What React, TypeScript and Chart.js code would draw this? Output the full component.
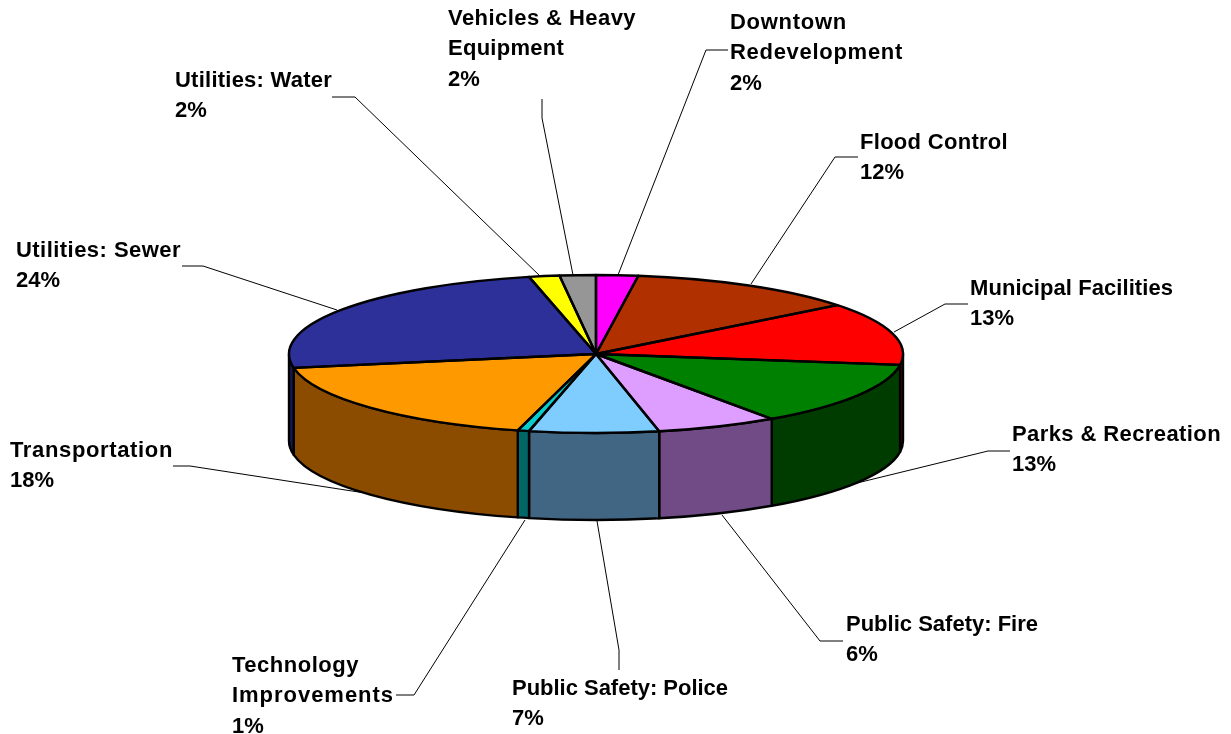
import React, { useEffect, useRef } from "react";
import { Chart, registerables } from "chart.js";

Chart.register(...registerables);

const categories = [
  "Downtown Redevelopment",
  "Flood Control",
  "Municipal Facilities",
  "Parks & Recreation",
  "Public Safety: Fire",
  "Public Safety: Police",
  "Technology Improvements",
  "Transportation",
  "Utilities: Sewer",
  "Utilities: Water",
  "Vehicles & Heavy Equipment",
];
const shares = [2.2, 12.2, 12.8, 13.1, 6.4, 6.8, 0.6, 18.1, 24.3, 1.6, 1.9];
const percentLabels = ["2%", "12%", "13%", "13%", "6%", "7%", "1%", "18%", "24%", "2%", "2%"];
const topColors = ["#FF00FF", "#B03000", "#FF0000", "#008000", "#DD9EFF", "#7FCCFF", "#0ACCCC", "#FF9900", "#2E3099", "#FFFF00", "#969696"];
const sideColors = ["#800080", "#581800", "#800000", "#003C00", "#704B86", "#406683", "#006666", "#8C4C00", "#17194D", "#808000", "#4B4B4B"];

const W = 1231;
const H = 734;
const CX = 596;
const CY = 354;
const RX = 307;
const RY = 79;
const DEPTH = 87;

// label placement: wrapped lines, their drawn widths, left edge, vertical centre of the first line
const labelLayout = [
  { lines: ["Downtown", "Redevelopment"], widths: [117, 173], x: 730, y: 22, leader: [[728, 50], [706, 50], [618, 275]] },
  { lines: ["Flood Control"], widths: [148], x: 860, y: 142, leader: [[858, 157], [835, 157], [751, 284]] },
  { lines: ["Municipal Facilities"], widths: [203], x: 970, y: 288, leader: [[968, 304], [945, 304], [894, 332]] },
  { lines: ["Parks & Recreation"], widths: [209], x: 1012, y: 434, leader: [[1010, 451], [988, 451], [857, 483]] },
  { lines: ["Public Safety: Fire"], widths: [192], x: 846, y: 624, leader: [[843, 641], [820, 641], [722, 515]] },
  { lines: ["Public Safety: Police"], widths: [216], x: 512, y: 688, leader: [[619, 670], [619, 650], [597, 521]] },
  { lines: ["Technology", "Improvements"], widths: [127, 162], x: 232, y: 665, leader: [[396, 695], [414, 695], [525, 520]] },
  { lines: ["Transportation"], widths: [163], x: 10, y: 450, leader: [[173, 466], [190, 466], [365, 493]] },
  { lines: ["Utilities: Sewer"], widths: [165], x: 16, y: 250, leader: [[182, 266], [203, 266], [337, 310]] },
  { lines: ["Utilities: Water"], widths: [157], x: 175, y: 80, leader: [[332, 97], [355, 97], [541, 277]] },
  { lines: ["Vehicles & Heavy", "Equipment"], widths: [188, 116], x: 448, y: 18, leader: [[542, 99], [542, 118], [573, 275]] },
];

const LINE_STEP = 30.3;

const pie3d = {
  id: "pie3d",
  beforeDatasetsDraw(chart: any) {
    const ctx: CanvasRenderingContext2D = chart.ctx;
    const arcs = chart.getDatasetMeta(0).data;

    ctx.save();
    ctx.strokeStyle = "#000";
    ctx.lineWidth = 1;
    labelLayout.forEach((l) => {
      ctx.beginPath();
      l.leader.forEach((p, i) => (i ? ctx.lineTo(p[0], p[1]) : ctx.moveTo(p[0], p[1])));
      ctx.stroke();
    });

    // front walls
    ctx.lineWidth = 2.4;
    ctx.lineJoin = "round";
    arcs.forEach((arc: any, i: number) => {
      const { x, y, startAngle, endAngle, outerRadius } = arc.getProps(["x", "y", "startAngle", "endAngle", "outerRadius"], true);
      const s = Math.max(startAngle, 0);
      const e = Math.min(endAngle, Math.PI);
      if (s >= e) return;
      const ry = outerRadius * (RY / RX);
      ctx.beginPath();
      ctx.ellipse(x, y, outerRadius, ry, 0, s, e);
      ctx.lineTo(x + outerRadius * Math.cos(e), y + ry * Math.sin(e) + DEPTH);
      ctx.ellipse(x, y + DEPTH, outerRadius, ry, 0, e, s, true);
      ctx.closePath();
      ctx.fillStyle = sideColors[i];
      ctx.fill();
      ctx.stroke();
    });
    ctx.restore();

    // the pie's own arcs are drawn squashed into the tilted top face
    ctx.save();
    ctx.translate(CX, CY);
    ctx.scale(1, RY / RX);
    ctx.translate(-CX, -CY);
  },
  afterDatasetsDraw(chart: any) {
    const ctx: CanvasRenderingContext2D = chart.ctx;
    ctx.restore();
    const arcs = chart.getDatasetMeta(0).data;

    ctx.save();
    ctx.strokeStyle = "#000";
    ctx.lineWidth = 2.4;
    ctx.lineJoin = "round";
    arcs.forEach((arc: any) => {
      const { x, y, startAngle, endAngle, outerRadius } = arc.getProps(["x", "y", "startAngle", "endAngle", "outerRadius"], true);
      const ry = outerRadius * (RY / RX);
      ctx.beginPath();
      ctx.moveTo(x, y);
      ctx.ellipse(x, y, outerRadius, ry, 0, startAngle, endAngle);
      ctx.closePath();
      ctx.stroke();
    });

    ctx.fillStyle = "#000";
    ctx.font = 'bold 22px "Liberation Sans", Arial, sans-serif';
    ctx.textBaseline = "alphabetic";
    labelLayout.forEach((l, i) => {
      l.lines.forEach((t, n) => {
        (ctx as any).letterSpacing = "0px";
        const spacing = (l.widths[n] - ctx.measureText(t).width) / t.length;
        (ctx as any).letterSpacing = `${spacing}px`;
        ctx.fillText(t, l.x, l.y + 7 + n * LINE_STEP);
      });
      (ctx as any).letterSpacing = "0px";
      ctx.fillText(percentLabels[i], l.x, l.y + 7 + l.lines.length * LINE_STEP);
    });
    ctx.restore();
  },
};

export default function App() {
  const ref = useRef<HTMLCanvasElement>(null);
  useEffect(() => {
    const chart = new Chart(ref.current!, {
      type: "pie",
      data: {
        labels: categories,
        datasets: [{ data: shares, backgroundColor: topColors, borderWidth: 0 }],
      },
      options: {
        animation: false,
        responsive: false,
        layout: {
          padding: { left: CX - RX, right: W - CX - RX, top: CY - RX, bottom: H - CY - RX },
        },
        plugins: { legend: { display: false }, tooltip: { enabled: false }, title: { display: false } },
      },
      plugins: [pie3d],
    } as any);
    return () => chart.destroy();
  }, []);
  return (
    <canvas
      ref={ref}
      width={W}
      height={H}
      style={{ position: "absolute", left: 0, top: 0, display: "block", background: "#fff" }}
    />
  );
}
